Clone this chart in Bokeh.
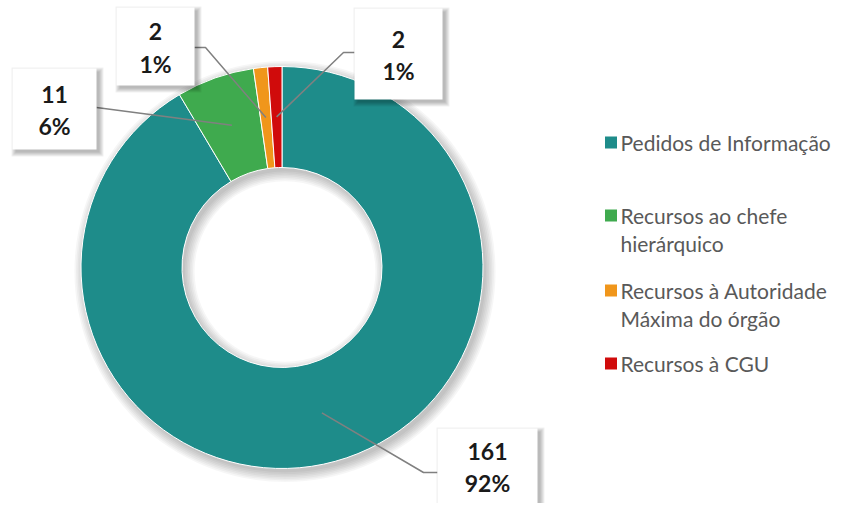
import math
from bokeh.plotting import figure
from bokeh.models import Range1d, ColumnDataSource
from bokeh.embed import file_html
from bokeh.resources import INLINE
from bokeh.core.properties import value

# ---- data ----
categories = ["Pedidos de Informação", "Recursos ao chefe hierárquico",
              "Recursos à Autoridade Máxima do órgão", "Recursos à CGU"]
legend_lines = [["Pedidos de Informação"],
                ["Recursos ao chefe", "hierárquico"],
                ["Recursos à Autoridade", "Máxima do órgão"],
                ["Recursos à CGU"]]
counts = [161, 11, 2, 2]
percents = ["92%", "6%", "1%", "1%"]
colors = ["#1E8C8A", "#3FAA4E", "#F0961B", "#D00B0B"]

# ---- layout (reference pixel coordinates, y measured from top) ----
W, H = 833, 503
CX, CY = 281.5, 267.0
R_OUT, R_IN = 201.0, 100.0
box_rects = [(437, 537, 428, 503), (12, 96, 68, 149), (116, 194, 7, 85), (354, 442, 8, 99)]
box_edge = [(437, 472), (96, 107), (194, 47), (354, 52)]
box_elbow = [(423, 472), (96, 107), (205, 47), (343, 52)]
legend_y = [142, 215, 290, 363]
legend_dy = 28


def Y(y):
    return H - y


p = figure(width=W, height=H, x_range=Range1d(0, W), y_range=Range1d(0, H),
           output_backend="svg", toolbar_location=None, min_border=0)
p.axis.visible = False
p.grid.visible = False
p.outline_line_color = None
p.background_fill_color = "white"
p.border_fill_color = "white"

# shadow of donut
for k in range(7):
    p.annulus(x=CX + 3, y=Y(CY + 4), inner_radius=R_IN - k * 1.6, outer_radius=R_OUT + k * 1.6,
              fill_color="black", fill_alpha=0.035, line_color=None)

total = sum(counts)
starts, ends, mids = [], [], []
c = 0.0
for v in counts:
    c0, c1 = c / total, (c + v) / total
    starts.append(math.pi / 2 - 2 * math.pi * c1)
    ends.append(math.pi / 2 - 2 * math.pi * c0)
    mids.append(math.pi / 2 - math.pi * (c0 + c1))
    c += v

src = ColumnDataSource(dict(start=starts, end=ends, color=colors, cat=categories))
p.annular_wedge(x=CX, y=Y(CY), inner_radius=R_IN, outer_radius=R_OUT,
                start_angle="start", end_angle="end", direction="anticlock",
                fill_color="color", line_color="white", line_width=1, source=src)

# leader lines
for i in range(len(counts)):
    ax = CX + 0.75 * R_OUT * math.cos(mids[i])
    ay = Y(CY) + 0.75 * R_OUT * math.sin(mids[i])
    xs = [ax, box_elbow[i][0], box_edge[i][0]]
    ys = [ay, Y(box_elbow[i][1]), Y(box_edge[i][1])]
    p.line(xs, ys, line_color="#808080", line_width=1.5)

# label boxes with shadows
for i, (l, r, t, b) in enumerate(box_rects):
    for k in range(5):
        p.quad(left=l + 3 - k, right=r + 3 + k, top=Y(t + 3 - k), bottom=Y(b + 3 + k),
               fill_color="black", fill_alpha=0.06, line_color=None)
    p.quad(left=l, right=r, top=Y(t), bottom=Y(b), fill_color="white", line_color=None)
    cx = (l + r) / 2
    cy = (t + b) / 2
    p.text(x=[cx, cx], y=[Y(cy - 15), Y(cy + 17)], text=[str(counts[i]), percents[i]],
           text_font=value("Lato"), text_font_style="bold", text_font_size="23px",
           text_color="#1a1a1a", text_align="center", text_baseline="middle")

# legend
for i, lines in enumerate(legend_lines):
    p.rect(x=610.5, y=Y(legend_y[i]), width=12, height=12, fill_color=colors[i], line_color=None)
    for j, s in enumerate(lines):
        p.text(x=[620], y=[Y(legend_y[i] + j * legend_dy)], text=[s],
               text_font=value("Lato"), text_font_size="21px", text_color="#595959",
               text_align="left", text_baseline="middle")

open("out.html", "w").write(file_html(p, INLINE))
